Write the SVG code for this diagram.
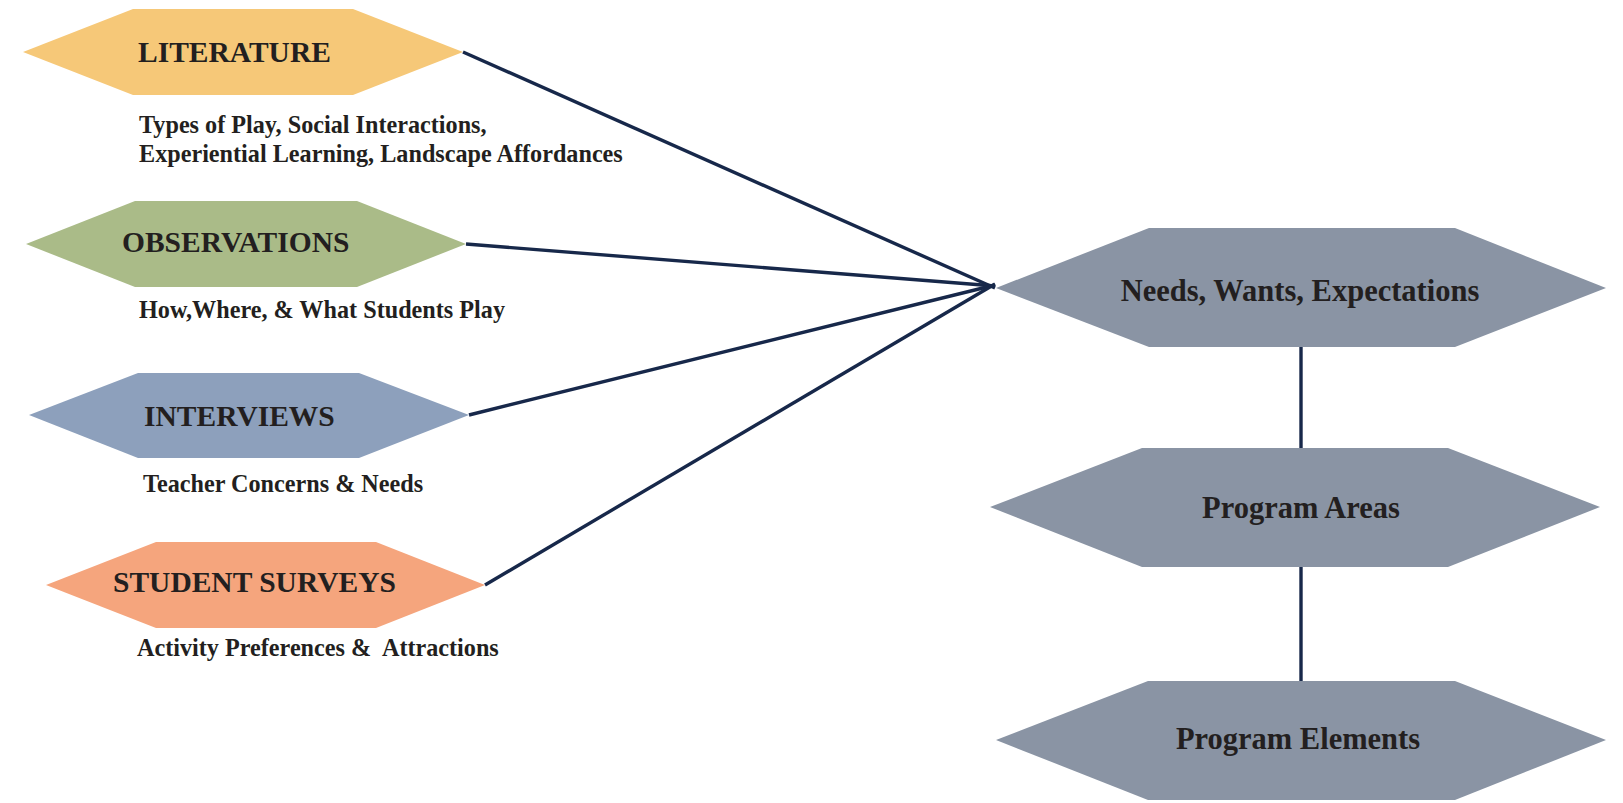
<svg xmlns="http://www.w3.org/2000/svg" width="1623" height="803" viewBox="0 0 1623 803">
  <style>
    .title { font-family: "Liberation Serif", "Times New Roman", serif; font-weight: bold; font-size: 29.5px; fill: #231f20; }
    .sub { font-family: "Liberation Serif", "Times New Roman", serif; font-weight: bold; font-size: 24.2px; fill: #231f20; white-space: pre; }
    .stage { font-family: "Liberation Serif", "Times New Roman", serif; font-weight: bold; font-size: 30.5px; fill: #231f20; }
    .conn { stroke: #17284a; stroke-width: 3.4; fill: none; stroke-linecap: butt; }
    .gray { fill: #8a94a4; }
  </style>

  <rect width="1623" height="803" fill="#ffffff"/>

  <!-- connectors -->
  <g id="connectors">
    <line class="conn" x1="463" y1="52" x2="995" y2="288"/>
    <line class="conn" x1="466" y1="244" x2="995" y2="286"/>
    <line class="conn" x1="469" y1="415" x2="995" y2="285"/>
    <line class="conn" x1="485" y1="585" x2="995" y2="284"/>
    <line class="conn" x1="1301" y1="346" x2="1301" y2="449"/>
    <line class="conn" x1="1301" y1="566" x2="1301" y2="682"/>
  </g>

  <!-- source nodes -->
  <g id="literature">
    <polygon points="23,52 133,9 353,9 463,52 353,95 133,95" fill="#f6c878"/>
    <text class="title" x="138" y="62">LITERATURE</text>
    <text class="sub" x="139" y="133">Types of Play, Social Interactions,</text>
    <text class="sub" x="139" y="162">Experiential Learning, Landscape Affordances</text>
  </g>

  <g id="observations">
    <polygon points="26,244 135,201 357,201 466,244 357,287 135,287" fill="#aabb88"/>
    <text class="title" x="122" y="252">OBSERVATIONS</text>
    <text class="sub" x="139" y="318">How,Where, &amp; What Students Play</text>
  </g>

  <g id="interviews">
    <polygon points="29,415 138,373 359,373 469,415 359,458 138,458" fill="#8da0bc"/>
    <text class="title" x="144" y="426">INTERVIEWS</text>
    <text class="sub" x="143" y="492">Teacher Concerns &amp; Needs</text>
  </g>

  <g id="student-surveys">
    <polygon points="46,585 156,542 376,542 485,585 376,628 156,628" fill="#f5a57d"/>
    <text class="title" x="113" y="592">STUDENT SURVEYS</text>
    <text class="sub" x="137" y="656">Activity Preferences &amp;  Attractions</text>
  </g>

  <!-- outcome nodes -->
  <g id="needs">
    <polygon class="gray" points="996,288 1149,228 1455,228 1606,288 1455,347 1149,347"/>
    <text class="stage" x="1300" y="301" text-anchor="middle">Needs, Wants, Expectations</text>
  </g>

  <g id="program-areas">
    <polygon class="gray" points="990,507 1142,448 1448,448 1600,507 1448,567 1142,567"/>
    <text class="stage" x="1301" y="518" text-anchor="middle">Program Areas</text>
  </g>

  <g id="program-elements">
    <polygon class="gray" points="996,740 1148,681 1455,681 1606,740 1455,800 1148,800"/>
    <text class="stage" x="1298" y="749" text-anchor="middle">Program Elements</text>
  </g>
</svg>
